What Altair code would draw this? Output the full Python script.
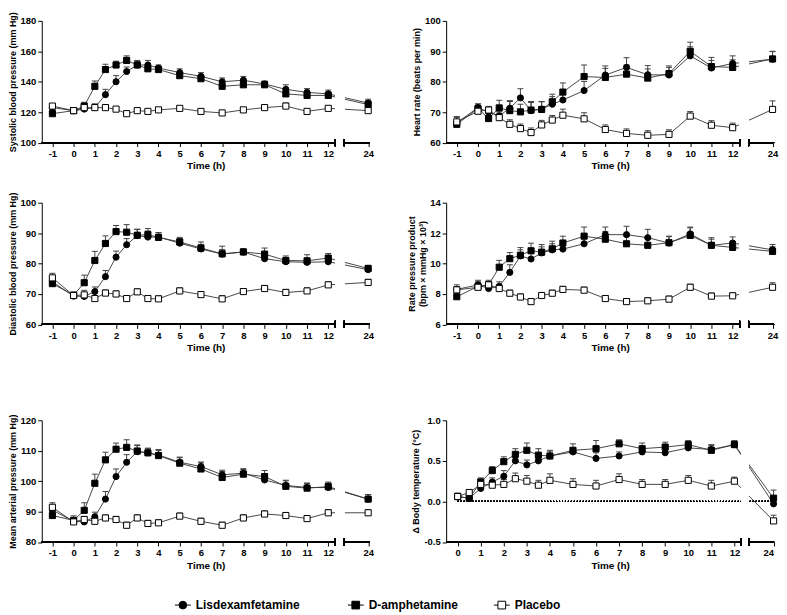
import math
import altair as alt
import pandas as pd

SERIES = ["Lisdexamfetamine", "D-amphetamine", "Placebo"]
TIMES = [-1, 0, 0.5, 1, 1.5, 2, 2.5, 3, 3.5, 4, 5, 6, 7, 8, 9, 10, 11, 12, 24]
TIMES_T = [0, 0.5, 1, 1.5, 2, 2.5, 3, 3.5, 4, 5, 6, 7, 8, 9, 10, 11, 12, 24]

# Systolic blood pressure (mm Hg)
sbp_lis = [123, 121, 122, 123, 131.5, 140, 146.7, 151, 151, 149, 146, 143.5, 140, 141, 138.5, 135, 133, 132, 126]
sbp_dam = [119, 121, 124, 137, 148, 151, 154, 151, 148.5, 148, 144, 142, 137, 138, 138, 132, 131, 131, 125]
sbp_pla = [124, 121, 123, 123, 123, 122, 119, 121, 120.5, 121.5, 122.5, 120.5, 119.5, 121.5, 123, 124, 120.5, 122.5, 121]
sbp_lis_e = [2, 2, 2, 2.5, 3.5, 4, 3, 2.5, 3, 2, 2.5, 2.5, 2.5, 2.5, 2, 3, 2.5, 2.5, 2.5]
sbp_dam_e = [2, 2, 2.5, 3.5, 3.5, 2.5, 3, 3, 2.5, 2, 2.5, 2.5, 2.5, 2.5, 2, 2, 2, 2, 2.5]
sbp_pla_e = [1.5, 1.5, 1.5, 1.5, 1.5, 1.5, 1.5, 1.5, 1.5, 1.5, 1.5, 1.5, 1.5, 1.5, 1.5, 2, 1.5, 1.5, 1.5]

# Heart rate (beats per min)
hr_lis = [66.5, 71.5, 70, 68.8, 71.3, 74.7, 70.5, 71, 72.6, 74, 77.1, 82.2, 84.7, 82.3, 82.2, 88.5, 84.5, 86, 87.4]
hr_dam = [66, 71.2, 67.9, 71.4, 70.5, 70.1, 70.7, 70.9, 73.4, 76.6, 81.7, 81.4, 82.5, 81.2, 82.7, 90, 85, 84.7, 87.5]
hr_pla = [66.8, 70.3, 70.7, 68.2, 66, 64.6, 63.3, 65.8, 67.4, 69, 67.8, 64.3, 63, 62.4, 62.7, 68.7, 65.7, 64.9, 70.9]
hr_lis_e = [2, 1.2, 1.5, 1.5, 2.5, 3, 3, 2.5, 2.5, 2, 3, 3, 3.2, 3, 2.5, 3, 2.5, 2.5, 2.5]
hr_dam_e = [2.5, 1.5, 2, 2.5, 3, 2.5, 2.5, 2.5, 2.5, 3, 3.8, 3, 3, 3, 2.5, 3, 3, 2.5, 2.5]
hr_pla_e = [1.5, 1.5, 1.2, 1.5, 1.5, 1.5, 1.5, 1.5, 1.5, 2, 2, 1.5, 1.5, 1.5, 1.5, 1.5, 1.5, 1.5, 2.8]

# Diastolic blood pressure (mm Hg)
dbp_lis = [74, 69.3, 69.2, 70.8, 75.7, 82.1, 86.2, 89.2, 88.7, 88.7, 86.7, 84.8, 83.1, 83.8, 81.6, 80.6, 80.4, 80.6, 78]
dbp_dam = [73.4, 69.6, 73.7, 81, 86.6, 90.5, 90.3, 89.3, 89.5, 88.6, 87.1, 85.1, 83.2, 83.8, 83.1, 81, 80.9, 81.8, 78.4]
dbp_pla = [75.3, 69.5, 69.7, 68.5, 70.3, 70, 68.5, 70.7, 68.5, 68.4, 71, 69.8, 68.4, 70.8, 71.8, 70.5, 71, 73, 73.8]
dbp_lis_e = [1.5, 1, 1, 1.5, 2, 2, 2, 2, 2, 1.5, 1.5, 1.5, 1.5, 1, 1, 1, 1, 1, 1]
dbp_dam_e = [1.5, 1, 2.5, 3, 2.5, 2, 2.5, 2, 2, 1.5, 1.5, 2, 2.5, 1, 2, 1.5, 2, 1.5, 1]
dbp_pla_e = [1.5, 1, 1.5, 1, 1, 1, 1, 1, 1, 1, 1, 1, 1, 1, 1, 1, 1, 1, 1]

# Rate pressure product (bpm x mmHg x 10^3)
rpp_lis = [8.3, 8.6, 8.36, 8.5, 9.42, 10.5, 10.3, 10.7, 10.9, 10.95, 11.3, 11.9, 11.9, 11.7, 11.35, 11.95, 11.2, 11.35, 10.9]
rpp_dam = [7.82, 8.5, 8.6, 9.76, 10.32, 10.55, 10.84, 10.75, 10.97, 11.35, 11.8, 11.6, 11.3, 11.2, 11.37, 11.85, 11.2, 11.06, 10.8]
rpp_pla = [8.27, 8.44, 8.6, 8.36, 8.05, 7.8, 7.5, 7.9, 8.05, 8.3, 8.25, 7.7, 7.5, 7.55, 7.66, 8.44, 7.86, 7.88, 8.44]
rpp_lis_e = [0.3, 0.3, 0.3, 0.3, 0.5, 0.4, 0.4, 0.4, 0.4, 0.4, 0.5, 0.5, 0.55, 0.55, 0.45, 0.45, 0.4, 0.4, 0.35]
rpp_dam_e = [0.3, 0.3, 0.3, 0.45, 0.4, 0.5, 0.5, 0.5, 0.5, 0.45, 0.6, 0.5, 0.5, 0.5, 0.4, 0.5, 0.5, 0.4, 0.3]
rpp_pla_e = [0.2, 0.2, 0.2, 0.2, 0.2, 0.2, 0.2, 0.2, 0.2, 0.2, 0.2, 0.2, 0.2, 0.2, 0.2, 0.2, 0.2, 0.2, 0.3]

# Mean arterial pressure (mm Hg)
map_lis = [90.5, 86.8, 86.6, 88.3, 94.1, 101.5, 106.2, 109.7, 109.3, 108.6, 106.2, 104.8, 102.1, 102.6, 100.4, 98.6, 97.9, 97.9, 94.1]
map_dam = [88.7, 87.1, 90.4, 99.3, 107, 110.5, 111.1, 109.9, 109.3, 108.4, 105.9, 104, 101.2, 102.3, 101.5, 98.3, 97.7, 98.2, 94.1]
map_pla = [91.4, 86.6, 87.4, 86.8, 87.9, 87.4, 85.5, 87.9, 86.1, 86.3, 88.5, 86.8, 85.5, 87.9, 89.2, 88.7, 87.7, 89.6, 89.6]
map_lis_e = [1.5, 1, 1.5, 1.5, 2.5, 2.5, 2.5, 2, 1.5, 1.5, 1.5, 1.5, 1.5, 1.5, 1.5, 1.5, 1.5, 1.5, 1.5]
map_dam_e = [1.5, 1.5, 2.5, 3, 2.5, 2, 2.5, 2, 1.5, 2, 2, 2, 2, 1.5, 2, 2, 1.5, 1.5, 1.5]
map_pla_e = [1.5, 1, 1, 1, 1, 1, 1, 1, 1, 1, 1, 1, 1, 1, 1, 1, 1, 1, 1]

# Change in body temperature (deg C)
tmp_lis = [0.06, 0.04, 0.16, 0.24, 0.31, 0.5, 0.45, 0.5, 0.56, 0.61, 0.53, 0.56, 0.61, 0.6, 0.66, 0.64, 0.7, -0.03]
tmp_dam = [0.06, 0.04, 0.24, 0.38, 0.49, 0.58, 0.63, 0.57, 0.56, 0.63, 0.65, 0.71, 0.65, 0.67, 0.7, 0.63, 0.7, 0.04]
tmp_pla = [0.06, 0.11, 0.21, 0.2, 0.21, 0.28, 0.25, 0.2, 0.26, 0.21, 0.19, 0.27, 0.21, 0.21, 0.26, 0.19, 0.25, -0.24]
tmp_lis_e = [0.04, 0.03, 0.05, 0.05, 0.07, 0.05, 0.06, 0.06, 0.06, 0.05, 0.07, 0.05, 0.05, 0.05, 0.04, 0.05, 0.04, 0.06]
tmp_dam_e = [0.04, 0.03, 0.05, 0.05, 0.06, 0.07, 0.09, 0.08, 0.07, 0.08, 0.1, 0.05, 0.07, 0.06, 0.05, 0.07, 0.05, 0.1]
tmp_pla_e = [0.04, 0.03, 0.05, 0.05, 0.06, 0.07, 0.07, 0.06, 0.08, 0.07, 0.07, 0.07, 0.06, 0.06, 0.06, 0.07, 0.05, 0.07]

FONT = "Liberation Sans"
INK = "#000000"
LINE = "#333333"
W, H = 330, 122.5

shape_scale = alt.Scale(domain=SERIES, range=["circle", "square", "square"])
fill_scale = alt.Scale(domain=SERIES, range=["#000000", "#000000", "#ffffff"])


def make_df(times, vals, errs, pos24):
    rows = []
    for k, s in enumerate(SERIES):
        for t, v, e in zip(times, vals[k], errs[k]):
            rows.append({"series": s, "k": k, "t": t,
                         "xp": t if t <= 12 else pos24, "v": v, "top": v + e})
    return pd.DataFrame(rows)


def panel(times, vals, errs, ydom, yvals, ytitle, xmin, xmax, pos24, gap0, gap1,
          ylabel_expr=None, zero_line=False, title_pad=3):
    df = make_df(times, vals, errs, pos24)
    xs = alt.Scale(domain=[xmin, xmax], nice=False, zero=False)
    ys = alt.Scale(domain=ydom, nice=False, zero=False)
    xvals = list(range(int(math.ceil(xmin)), 13)) + [pos24]
    xaxis = alt.Axis(values=xvals, tickCount=len(xvals) + 5,
                     labelExpr="datum.value > 12.5 ? '24' : '' + datum.value",
                     title="Time (h)", domain=False, grid=False, tickSize=4,
                     labelPadding=2, titlePadding=3, labelOverlap=False)
    yargs = dict(values=yvals, tickCount=len(yvals) + 5, title=ytitle, grid=False,
                 tickSize=4, labelPadding=2, titlePadding=title_pad, labelOverlap=False)
    if ylabel_expr:
        yargs["labelExpr"] = ylabel_expr
    yaxis = alt.Axis(**yargs)
    base = alt.Chart(df)
    lines = base.mark_line(color=LINE, strokeWidth=0.9).encode(
        x=alt.X("xp:Q", scale=xs, axis=xaxis),
        y=alt.Y("v:Q", scale=ys, axis=yaxis),
        detail="series:N",
        order="xp:Q",
    )
    layers = [lines]
    if zero_line:
        layers.append(alt.Chart(df).mark_rule(color=INK, strokeWidth=1, strokeDash=[1, 2]).encode(
            x=alt.datum(0), x2=alt.datum(pos24), y=alt.datum(0)))
    mask = alt.Chart(df).mark_rect(color="white").encode(
        x=alt.datum(gap0), x2=alt.datum(gap1), y=alt.value(0), y2=alt.value(H))
    err = base.mark_rule(color="#444444", strokeWidth=1).encode(
        x="xp:Q", y="v:Q", y2="top:Q")
    cap = base.mark_rule(color="#444444", strokeWidth=1, xOffset=-3, x2Offset=3).encode(
        x="xp:Q", x2="xp:Q", y="top:Q")
    pts = base.mark_point(filled=True, size=38, stroke=INK, strokeWidth=1, opacity=1, fillOpacity=1).encode(
        x="xp:Q", y="v:Q",
        shape=alt.Shape("series:N", scale=shape_scale, legend=None),
        fill=alt.Fill("series:N", scale=fill_scale, legend=None),
    )
    ax1 = alt.Chart(df).mark_rule(color=INK, strokeWidth=1).encode(
        x=alt.datum(xmin), x2=alt.datum(gap0), y=alt.value(H))
    ax2 = alt.Chart(df).mark_rule(color=INK, strokeWidth=1).encode(
        x=alt.datum(gap1), x2=alt.datum(xmax), y=alt.value(H))
    br1 = alt.Chart(df).mark_rule(color=INK, strokeWidth=1).encode(
        x=alt.datum(gap0), y=alt.value(H - 3.5), y2=alt.value(H + 3.5))
    br2 = alt.Chart(df).mark_rule(color=INK, strokeWidth=1).encode(
        x=alt.datum(gap1), y=alt.value(H - 3.5), y2=alt.value(H + 3.5))
    layers += [mask, err, cap, pts, ax1, ax2, br1, br2]
    return alt.layer(*layers).properties(width=W, height=H)


XL = dict(xmin=-1.5, xmax=13.95, pos24=13.88, gap0=12.33, gap1=12.75)
XT = dict(xmin=-0.5, xmax=13.72, pos24=13.7, gap0=12.29, gap1=12.63)

p_sbp = panel(TIMES, [sbp_lis, sbp_dam, sbp_pla], [sbp_lis_e, sbp_dam_e, sbp_pla_e],
              [100, 180], [100, 120, 140, 160, 180], "Systolic blood pressure (mm Hg)", **XL)
p_hr = panel(TIMES, [hr_lis, hr_dam, hr_pla], [hr_lis_e, hr_dam_e, hr_pla_e],
             [60, 100], [60, 70, 80, 90, 100], "Heart rate (beats per min)", **XL)
p_dbp = panel(TIMES, [dbp_lis, dbp_dam, dbp_pla], [dbp_lis_e, dbp_dam_e, dbp_pla_e],
              [60, 100], [60, 70, 80, 90, 100], "Diastolic blood pressure (mm Hg)", **XL)
p_rpp = panel(TIMES, [rpp_lis, rpp_dam, rpp_pla], [rpp_lis_e, rpp_dam_e, rpp_pla_e],
              [6, 14], [6, 8, 10, 12, 14], ["Rate pressure product", "(bpm × mmHg × 10³)"],
              title_pad=2, **XL)
p_map = panel(TIMES, [map_lis, map_dam, map_pla], [map_lis_e, map_dam_e, map_pla_e],
              [80, 120], [80, 90, 100, 110, 120], "Mean arterial pressure (mm Hg)", **XL)
p_tmp = panel(TIMES_T, [tmp_lis, tmp_dam, tmp_pla], [tmp_lis_e, tmp_dam_e, tmp_pla_e],
              [-0.5, 1.0], [-0.5, 0.0, 0.5, 1.0], "Δ Body temperature (°C)",
              ylabel_expr="replace(format(datum.value, '.1f'), '−', '-')", zero_line=True, **XT)

# custom legend (layout positions only, relative to the left plot origin)
LEG_W, LEG_H = 600, 12
leg_marker_x = [142, 316, 463]
leg_df = pd.DataFrame({"series": SERIES, "mx": leg_marker_x, "tx": [m + 13 for m in leg_marker_x]})
lx = alt.Scale(domain=[0, LEG_W], nice=False, zero=False)
leg_base = alt.Chart(leg_df)
leg = alt.layer(
    leg_base.mark_rule(color=INK, strokeWidth=1, xOffset=-8, x2Offset=8).encode(
        x=alt.X("mx:Q", scale=lx, axis=None), x2="mx:Q", y=alt.value(LEG_H / 2)),
    leg_base.mark_point(filled=True, size=60, stroke=INK, strokeWidth=1, opacity=1, fillOpacity=1).encode(
        x=alt.X("mx:Q", scale=lx, axis=None), y=alt.value(LEG_H / 2),
        shape=alt.Shape("series:N", scale=shape_scale, legend=None),
        fill=alt.Fill("series:N", scale=fill_scale, legend=None)),
    leg_base.mark_text(align="left", baseline="middle", font=FONT, fontSize=12,
                       fontWeight="bold", color=INK).encode(
        x=alt.X("tx:Q", scale=lx, axis=None), y=alt.value(LEG_H / 2), text="series:N"),
).properties(width=LEG_W, height=LEG_H)

row1 = alt.hconcat(p_sbp, p_hr, spacing=77, bounds="flush")
row2 = alt.hconcat(p_dbp, p_rpp, spacing=77, bounds="flush")
row3 = alt.hconcat(p_map, p_tmp, spacing=77, bounds="flush")

chart = alt.vconcat(
    alt.vconcat(alt.vconcat(row1, row2, spacing=21), row3, spacing=61),
    leg, spacing=29,
).properties(
    padding={"left": 0, "top": 1, "right": 0, "bottom": 0}
).configure_view(stroke=None).configure_axis(
    labelFont=FONT, labelFontWeight="bold", labelFontSize=9.5, labelColor=INK,
    titleFont=FONT, titleFontWeight="bold", titleFontSize=10, titleColor=INK,
    domainColor=INK, tickColor=INK, domainWidth=1, tickWidth=1,
).configure_axisY(titleFontSize=9)

chart.save("out.html", embed_options={"renderer": "svg", "actions": False})
